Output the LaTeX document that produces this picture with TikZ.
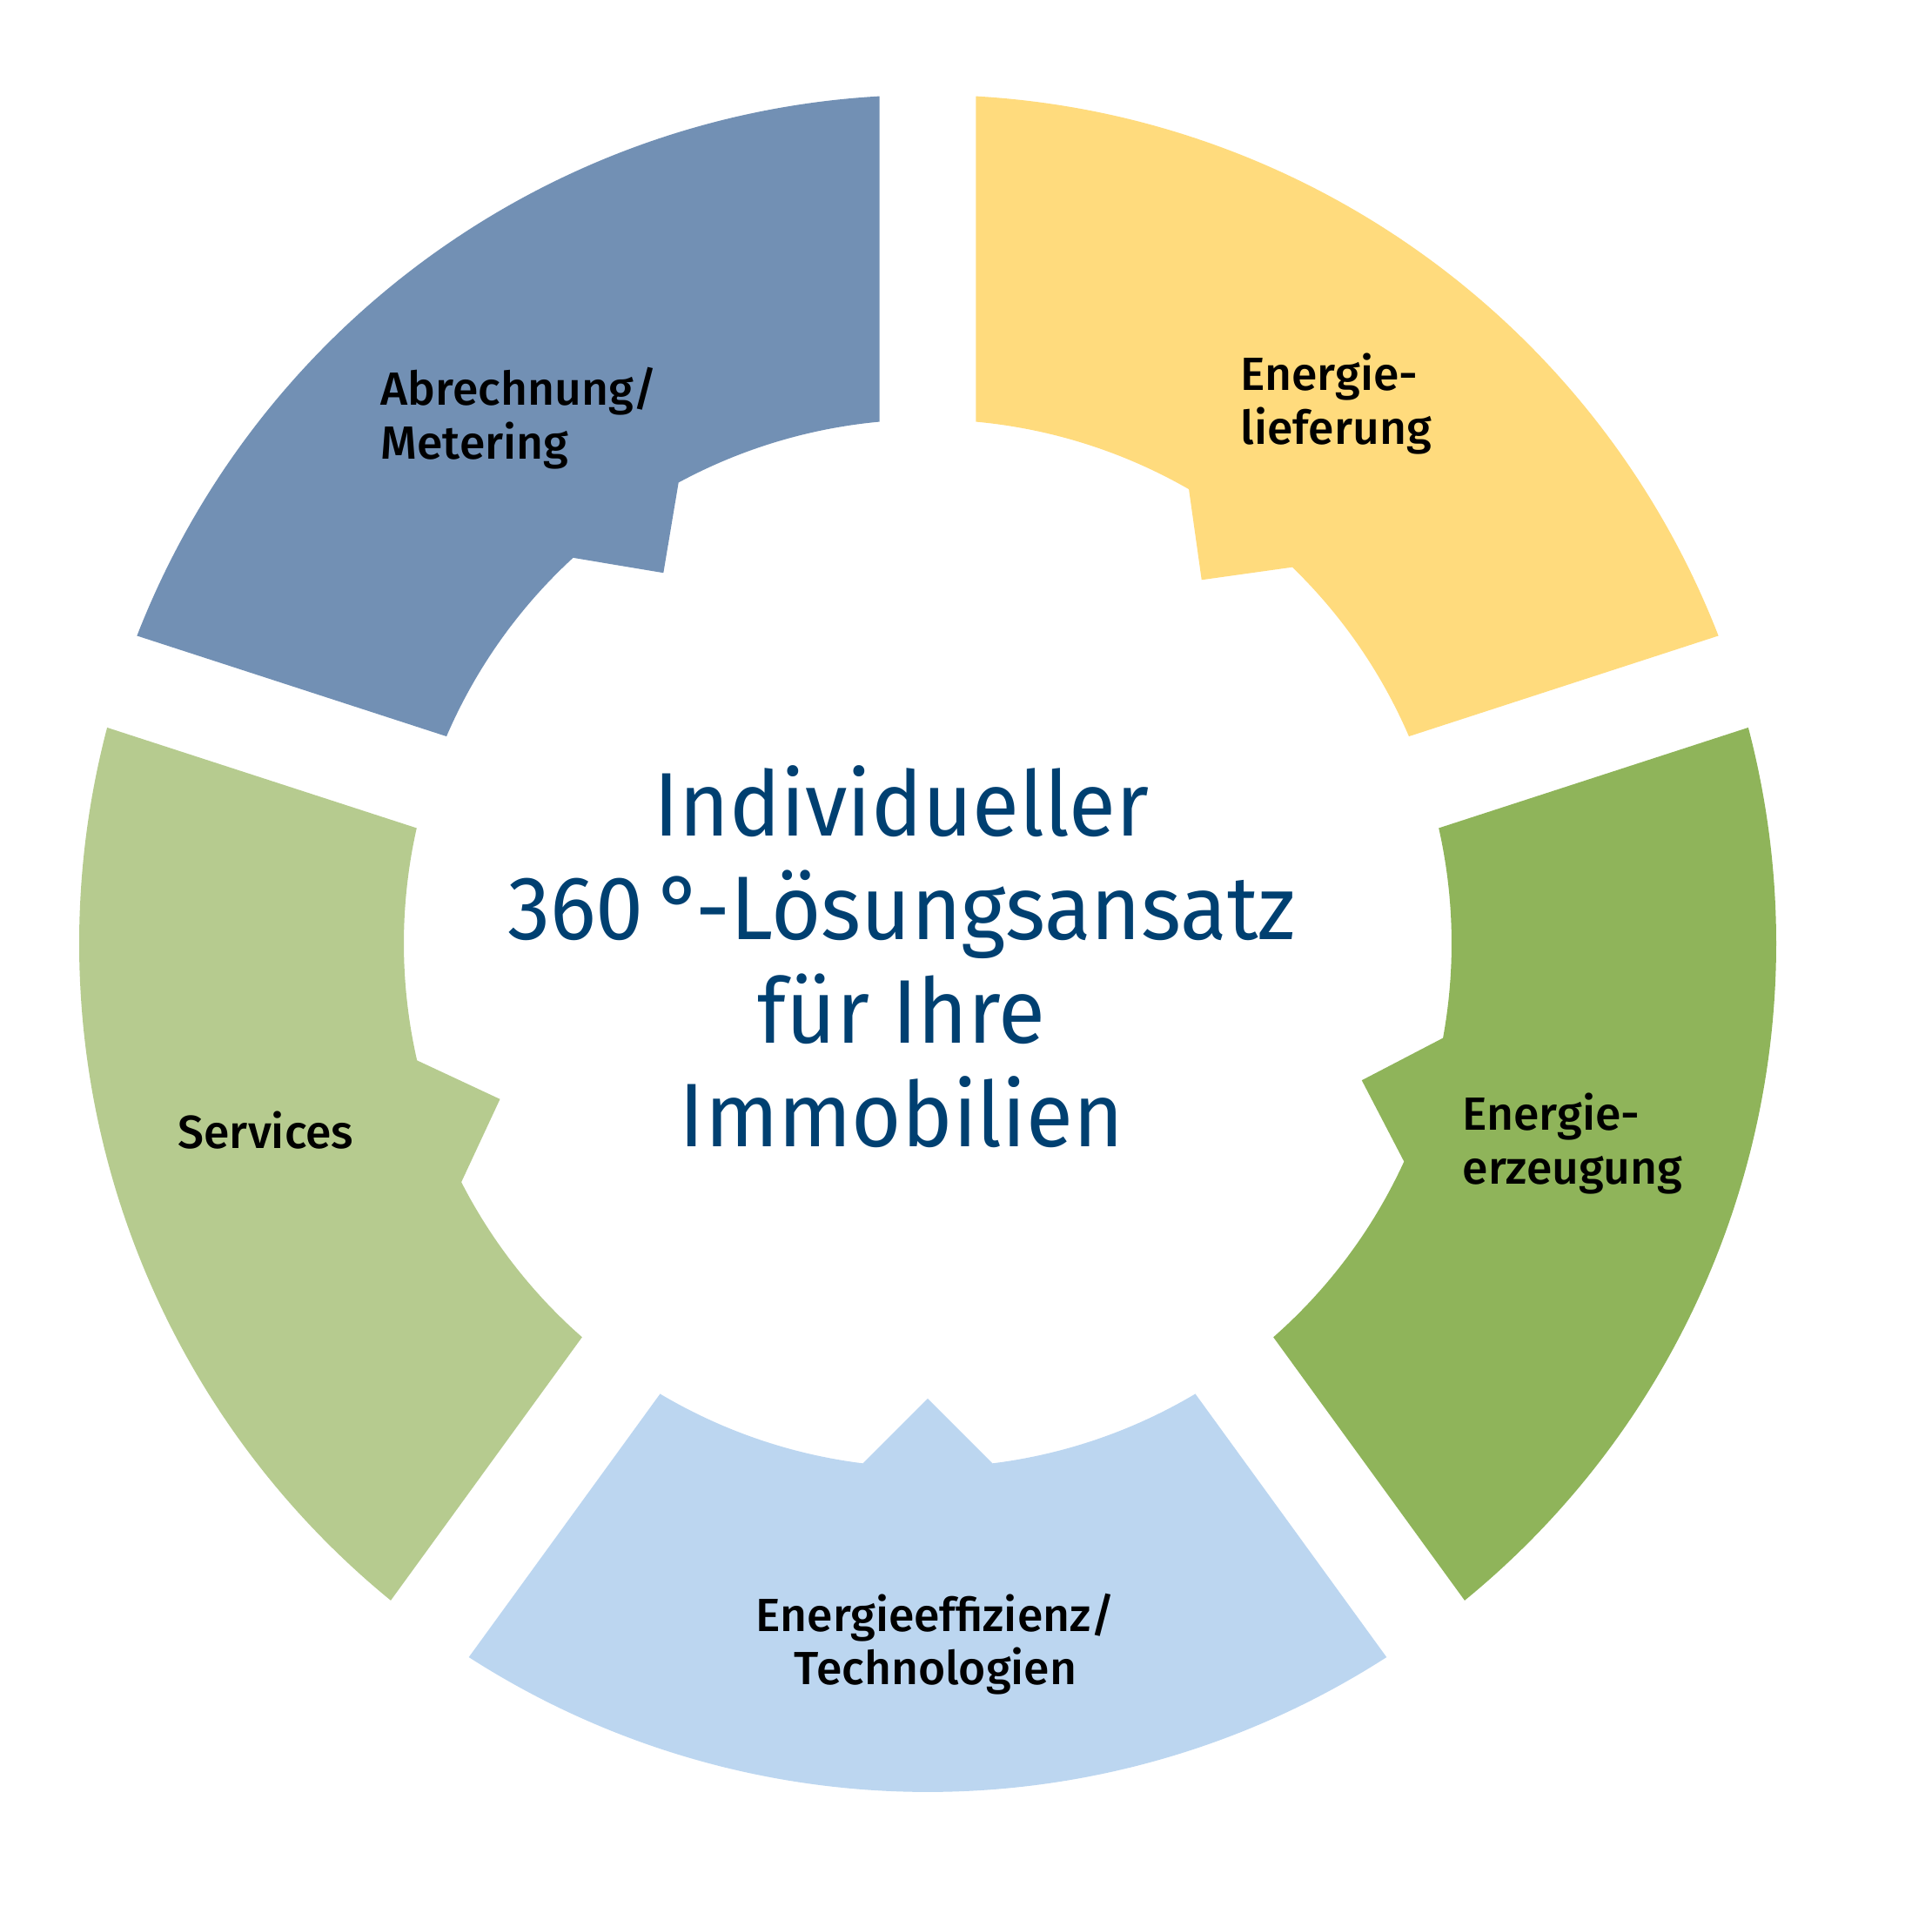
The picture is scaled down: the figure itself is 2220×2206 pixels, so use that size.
\documentclass[tikz,border=0pt]{standalone}
\usepackage{fontspec}
\setmainfont{Fira Sans}
\newfontfamily\mediumfont{Fira Sans Medium}
\newfontfamily\titlefont[FakeStretch=0.95]{Fira Sans}
\usepackage{xcolor}
\usepackage{tikz}
\definecolor{segblue}{HTML}{7290B4}
\definecolor{segyellow}{HTML}{FFDB7D}
\definecolor{seggreen}{HTML}{8FB45A}
\definecolor{segsky}{HTML}{BCD6F0}
\definecolor{segolive}{HTML}{B6CB8F}
\definecolor{titleblue}{HTML}{004071}
\tikzset{
  ringpart/.style={draw=none, fill=#1}
}

\begin{document}
\begin{tikzpicture}[x=0.01cm,y=0.01cm,
    label/.style = {inner sep=0pt, align=left, anchor=base west, font=\mediumfont\fontsize{15.2pt}{17.6pt}\selectfont},
    title/.style = {inner sep=0pt, align=center, anchor=base, text=titleblue, font=\titlefont\fontsize{29.5pt}{33.9pt}\selectfont}]
        \useasboundingbox (0,0) rectangle (2220,2206);

        % ring of five parts, each with a tab on the inside
        \begin{scope}[shift={(1066,1122)}]
        \foreach \m/\t/\col in {126/125.5/segblue,54/53/segyellow,-18/-17.5/seggreen,-90/-90/segsky,198/200/segolive}{
          \fill[ringpart=\col] (\m+32.74:975) arc[start angle=\m+32.74, end angle=\m-32.74, radius=975]
            -- (\m-30.72:602) arc[start angle=\m-30.72, end angle=\t-7.1, radius=602]
            -- (\t:523) -- (\t+7.1:602)
            arc[start angle=\t+7.1, end angle=\m+30.72, radius=602] -- cycle;
        }
        \end{scope}

        % base anchor = last line
        \node[label](metering) at (437,1678.3) {Abrechnung/\\Metering};
        \node[label](lieferung) at (1425,1695.3) {Energie-\\lieferung};
        \node[label](erzeugung) at (1680,845.3) {Energie-\\erzeugung};
        \node[label](services) at (204,886) {Services};
        \node[label,align=center,anchor=base](effizienz) at (1075,270) {Energieeffizienz/\\Technologien};

        \node[title](center) at (1036,888) {Individueller\\360\,°-Lösungsansatz\\für Ihre\\Immobilien};
\end{tikzpicture}
\end{document}
